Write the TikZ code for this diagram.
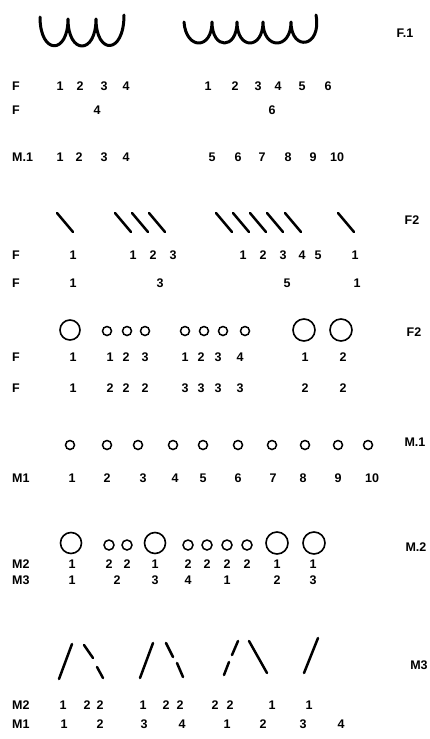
\documentclass[tikz,border=0pt]{standalone}
\usepackage{fontspec}
\setmainfont{Liberation Sans}
\usepackage{xcolor}

\begin{document}
\begin{tikzpicture}[
    x=1pt, y=-1pt,
    num/.style={font=\bfseries\fontsize{12.5}{14}\selectfont, inner sep=0pt},
    tag/.style={num, anchor=west},
    rowtag/.style={num},
    coil/.style={line width=3pt, line cap=round, line join=round},
    stroke/.style={line width=2.5pt, line cap=round},
    bigring/.style={circle, draw, line width=1.6pt, minimum size=20pt, inner sep=0pt},
    ring/.style={circle, draw, line width=1.5pt, minimum size=9pt, inner sep=0pt}
]
\useasboundingbox[fill=white] (0,0) rectangle (429,739);

% =====================================================================
% F.1: COILS
% =====================================================================
\draw[coil] (40,17) .. controls (40,55) and (68,55) .. (68,19)
    .. controls (68,55) and (96,55) .. (96,19)
    .. controls (96,55) and (124,55) .. (124,15);
\draw[coil] (184,22) .. controls (186,50) and (212,50) .. (212,22)
    .. controls (212,50) and (237,50) .. (237,22)
    .. controls (237,50) and (263,50) .. (263,22)
    .. controls (263,50) and (291,50) .. (291,22)
    .. controls (291,52) and (322,48) .. (316,15);
\node[rowtag] (t1) at (405,33) {F.1};

\node[tag] (fa) at (12,86) {F};
\foreach \x/\t [count=\i] in {60/1,80/2,104/3,126/4,208/1,235/2,258/3,278/4,302/5,328/6}
    \node[num] (fa\i) at (\x,86) {\t};
\node[tag] (fb) at (12,110) {F};
\node[num] (fb1) at (97,110) {4};
\node[num] (fb2) at (272,110) {6};

\node[tag] (ma) at (12,157) {M.1};
\foreach \x/\t [count=\i] in {60/1,79/2,104/3,126/4,212/5,238/6,262/7,288/8,313/9,337/10}
    \node[num] (ma\i) at (\x,157) {\t};

% =====================================================================
% F2: STROKES
% =====================================================================
\foreach \x in {57,115,132,149,216,233,250,267,285,338}
    \draw[stroke] (\x,213) -- ++(16,19);
\node[rowtag] (t2) at (412,220) {F2};

\node[tag] (fc) at (12,255) {F};
\foreach \x/\t [count=\i] in {73/1,133/1,153/2,173/3,243/1,263/2,283/3,302/4,318/5,355/1}
    \node[num] (fc\i) at (\x,255) {\t};
\node[tag] (fd) at (12,283) {F};
\foreach \x/\t [count=\i] in {73/1,160/3,287/5,357/1}
    \node[num] (fd\i) at (\x,283) {\t};

% =====================================================================
% F2: RINGS
% =====================================================================
\node[bigring] (ra1) at (70,330) {};
\foreach \x [count=\i] in {107,127,145,185,204,223,245}
    \node[ring] (rb\i) at (\x,331) {};
\node[bigring, minimum size=22pt] (ra2) at (304,330) {};
\node[bigring, minimum size=22pt] (ra3) at (341,330) {};
\node[rowtag] (t3) at (414,332) {F2};

\node[tag] (fe) at (12,357) {F};
\foreach \x/\t [count=\i] in {73/1,110/1,126/2,145/3,185/1,201/2,218/3,240/4,305/1,343/2}
    \node[num] (fe\i) at (\x,357) {\t};
\node[tag] (ff) at (12,388) {F};
\foreach \x/\t [count=\i] in {73/1,110/2,126/2,145/2,185/3,201/3,218/3,240/3,305/2,343/2}
    \node[num] (ff\i) at (\x,388) {\t};

% =====================================================================
% M.1: RINGS
% =====================================================================
\foreach \x [count=\i] in {70,107,138,173,203,238,272,305,338,368}
    \node[ring] (rc\i) at (\x,445) {};
\node[rowtag] (t4) at (415,442) {M.1};

\node[tag] (mb) at (12,478) {M1};
\foreach \x/\t [count=\i] in {72/1,107/2,143/3,175/4,203/5,238/6,273/7,303/8,338/9,372/10}
    \node[num] (mb\i) at (\x,478) {\t};

% =====================================================================
% M.2: RINGS
% =====================================================================
\foreach \x [count=\i] in {71,155}
    \node[bigring, minimum size=21pt] (rd\i) at (\x,543) {};
\foreach \x [count=\i] in {277,314}
    \node[bigring, minimum size=22pt] (re\i) at (\x,543) {};
\foreach \x [count=\i] in {109,127,188,207,227,247}
    \node[ring, minimum size=10pt] (rf\i) at (\x,545) {};
\node[rowtag] (t5) at (416,547) {M.2};

\node[tag] (mc) at (12,564) {M2};
\foreach \x/\t [count=\i] in {72/1,109/2,127/2,155/1,188/2,207/2,227/2,247/2,277/1,313/1}
    \node[num] (mc\i) at (\x,564) {\t};
\node[tag] (md) at (12,580) {M3};
\foreach \x/\t [count=\i] in {72/1,117/2,155/3,188/4,227/1,277/2,313/3}
    \node[num] (md\i) at (\x,580) {\t};

% =====================================================================
% M3: STROKES
% =====================================================================
\draw[stroke] (59,679) -- (72,644);
\draw[stroke] (84,645) -- (93,658);
\draw[stroke] (97,667) -- (103,678);
\draw[stroke] (140,678) -- (153,643);
\draw[stroke] (166,643) -- (173,657);
\draw[stroke] (177,663) -- (183,677);
\draw[stroke] (224,675) -- (229,662);
\draw[stroke] (232,655) -- (238,641);
\draw[stroke] (249,641) -- (267,673);
\draw[stroke] (304,673) -- (318,638);
\node[rowtag] (t6) at (419,665) {M3};

\node[tag] (me) at (12,705) {M2};
\foreach \x/\t [count=\i] in {63/1,87/2,100/2,143/1,166/2,180/2,215/2,230/2,272/1,309/1}
    \node[num] (me\i) at (\x,705) {\t};
\node[tag] (mf) at (12,724) {M1};
\foreach \x/\t [count=\i] in {64/1,100/2,144/3,182/4,227/1,263/2,303/3,341/4}
    \node[num] (mf\i) at (\x,724) {\t};

\end{tikzpicture}
\end{document}
